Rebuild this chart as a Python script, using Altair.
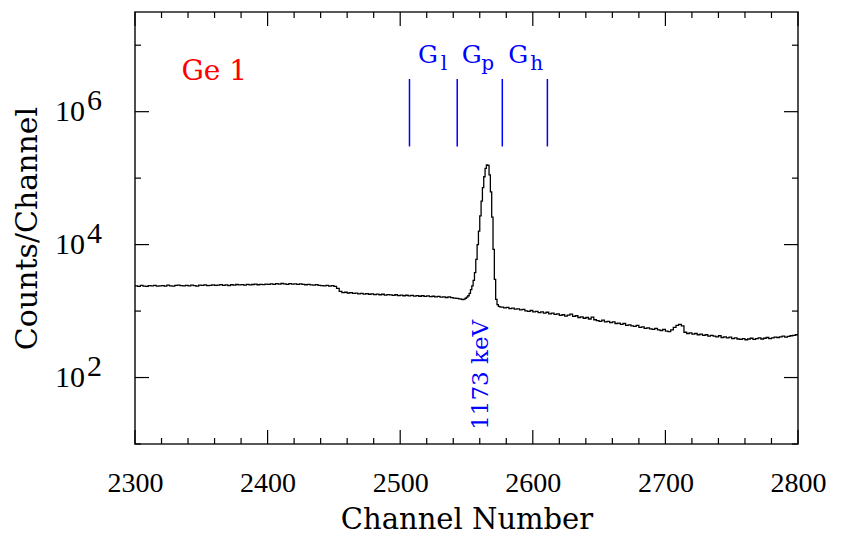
import altair as alt
import pandas as pd

# ---------------- data ----------------
# background left of the peak, every 2 channels (2300 ... 2544)
left_channels = list(range(2300, 2545, 2))
left_counts = [
    2400, 2360, 2430, 2380, 2350, 2410, 2390, 2440, 2370, 2400,
    2420, 2380, 2450, 2400, 2370, 2430, 2460, 2410, 2390, 2440,
    2400, 2450, 2420, 2380, 2460, 2430, 2470, 2410, 2440, 2480,
    2430, 2460, 2500, 2440, 2470, 2420, 2490, 2460, 2510, 2470,
    2500, 2450, 2520, 2480, 2510, 2540, 2490, 2530, 2500, 2550,
    2520, 2560, 2530, 2580, 2550, 2600, 2560, 2530, 2580, 2550,
    2570, 2530, 2560, 2520, 2490, 2530, 2480, 2460, 2500, 2440,
    2420, 2400, 2430, 2380, 2410, 2350, 2200, 1980, 1900, 1920,
    1870, 1890, 1840, 1860, 1820, 1850, 1800, 1830, 1790, 1810,
    1770, 1800, 1760, 1790, 1740, 1770, 1750, 1720, 1760, 1710,
    1740, 1700, 1730, 1690, 1720, 1680, 1710, 1670, 1700, 1660,
    1690, 1650, 1670, 1630, 1660, 1620, 1640, 1600, 1630, 1590,
    1570, 1550, 1530,
]
# 1173 keV photopeak, every channel (2546 ... 2575)
peak_channels = list(range(2546, 2576))
peak_counts = [
    1500, 1490, 1510, 1560, 1620, 1700, 1850, 2100, 2400, 2900,
    3800, 6000, 10000, 16000, 27000, 45000, 72000, 105000, 140000, 158000,
    156000, 112000, 62000, 26000, 8500, 3000, 1500, 1250, 1180, 1160,
]
# background right of the peak, every 2 channels (2576 ... 2800)
right_channels = list(range(2576, 2801, 2))
right_counts = [
    1150, 1120, 1140, 1090, 1110, 1070, 1080, 1040, 1060, 1010,
    990, 1020, 970, 990, 950, 970, 930, 960, 910, 930,
    890, 910, 860, 880, 840, 870, 900, 830, 850, 800,
    820, 780, 800, 760, 810, 740, 720, 700, 730, 690,
    700, 670, 690, 650, 660, 630, 650, 610, 620, 600,
    590, 610, 570, 580, 550, 560, 540, 530, 550, 520,
    510, 530, 500, 490, 520, 570, 610, 630, 600, 480,
    460, 470, 450, 460, 440, 450, 430, 440, 420, 430,
    420, 410, 425, 400, 410, 395, 405, 385, 395, 380,
    375, 385, 370, 380, 390, 375, 385, 395, 380, 390,
    400, 385, 395, 405, 400, 410, 420, 405, 415, 425,
    430, 440, 450,
]

x_major = [2300, 2400, 2500, 2600, 2700, 2800]
x_minor = [2320, 2340, 2360, 2380, 2420, 2440, 2460, 2480, 2520, 2540,
           2560, 2580, 2620, 2640, 2660, 2680, 2720, 2740, 2760, 2780]
y_major = [1e2, 1e4, 1e6]
y_major_exp = ["2", "4", "6"]
y_minor = [1e1, 1e3, 1e5, 1e7]

gate_edges = [2507, 2543, 2577, 2611]
gate_low, gate_high = 3.0e5, 3.1e6
gate_letter_x = [2521, 2554, 2589]
gate_letter_y = [5.4e6, 5.4e6, 5.4e6]
gate_sub = ["l", "p", "h"]
gate_sub_x = [2533, 2566, 2603]
gate_sub_y = [4.3e6, 4.3e6, 4.3e6]

det_label = ["Ge 1"]
det_x = [2335]
det_y = [3.0e6]

peak_label = ["1173 keV"]
peak_x = [2561]
peak_y = [110]

# ---------------- layout ----------------
W, H = 663, 432
SERIF = "DejaVu Serif"
TICKF = "Liberation Serif"
BLUE = "#0000ff"

xs = alt.Scale(domain=[2300, 2800], nice=False, zero=False)
ys = alt.Scale(type="log", domain=[10, 3.16e7], nice=False)

spec_df = pd.DataFrame({
    "ch": left_channels + peak_channels + right_channels,
    "c": left_counts + peak_counts + right_counts,
})

spectrum = alt.Chart(spec_df).mark_line(
    interpolate="step-after", color="black", strokeWidth=1.3, clip=True
).encode(
    x=alt.X("ch:Q", scale=xs, axis=alt.Axis(
        values=x_major, format="d", ticks=False, domain=False, grid=False,
        labelFlush=False, labelFont=TICKF, labelFontSize=28, labelColor="black",
        labelPadding=25,
        title="Channel Number", titleFont=SERIF, titleFontSize=29,
        titleFontWeight="normal", titleColor="black", titlePadding=8)),
    y=alt.Y("c:Q", scale=ys, axis=alt.Axis(
        labels=False, ticks=False, domain=False, grid=False,
        title="Counts/Channel", titleFont=SERIF, titleFontSize=30,
        titleFontWeight="normal", titleColor="black", titlePadding=93)),
)

def X(field):
    return alt.X(field, scale=xs, title="Channel Number")

def Y(field):
    return alt.Y(field, scale=ys, title="Counts/Channel")

def xticks(vals, length):
    d = pd.DataFrame({"v": vals})
    bot = alt.Chart(d).mark_rule(color="black", strokeWidth=1.2).encode(
        x=X("v:Q"), y=alt.value(H), y2=alt.value(H - length))
    top = alt.Chart(d).mark_rule(color="black", strokeWidth=1.2).encode(
        x=X("v:Q"), y=alt.value(0), y2=alt.value(length))
    return [bot, top]

def yticks(vals, length):
    d = pd.DataFrame({"v": vals})
    left = alt.Chart(d).mark_rule(color="black", strokeWidth=1.2).encode(
        y=Y("v:Q"), x=alt.value(0), x2=alt.value(length))
    right = alt.Chart(d).mark_rule(color="black", strokeWidth=1.2).encode(
        y=Y("v:Q"), x=alt.value(W), x2=alt.value(W - length))
    return [left, right]

ylab_df = pd.DataFrame({"v": y_major, "e": y_major_exp})
ylab_base = alt.Chart(ylab_df).mark_text(
    align="right", baseline="middle", font=TICKF, fontSize=30, color="black"
).encode(x=alt.value(-50), y=Y("v:Q"), text=alt.value("10"))
ylab_exp = alt.Chart(ylab_df).mark_text(
    align="left", baseline="middle", font=TICKF, fontSize=30, color="black", dy=-11
).encode(x=alt.value(-48), y=Y("v:Q"), text="e:N")

gate_df = pd.DataFrame({"x": gate_edges, "lo": [gate_low] * 4, "hi": [gate_high] * 4})
gates = alt.Chart(gate_df).mark_rule(color=BLUE, strokeWidth=1.5).encode(
    x=X("x:Q"), y=Y("lo:Q"), y2="hi:Q")

gl_df = pd.DataFrame({"x": gate_letter_x, "y": gate_letter_y, "s": gate_sub,
                      "sx": gate_sub_x, "sy": gate_sub_y})
g_letters = alt.Chart(gl_df).mark_text(
    font=SERIF, fontSize=25, color=BLUE, align="center", baseline="alphabetic"
).encode(x=X("x:Q"), y=Y("y:Q"), text=alt.value("G"))
g_subs = alt.Chart(gl_df).mark_text(
    font=SERIF, fontSize=20, color=BLUE, align="center", baseline="alphabetic"
).encode(x=X("sx:Q"), y=Y("sy:Q"), text="s:N")

det = alt.Chart(pd.DataFrame({"x": det_x, "y": det_y, "t": det_label})).mark_text(
    font=SERIF, fontSize=28, color="#ff0000", align="left", baseline="alphabetic"
).encode(x=X("x:Q"), y=Y("y:Q"), text="t:N")

peak = alt.Chart(pd.DataFrame({"x": peak_x, "y": peak_y, "t": peak_label})).mark_text(
    font=SERIF, fontSize=23, color=BLUE, align="center", baseline="middle", angle=270
).encode(x=X("x:Q"), y=Y("y:Q"), text="t:N")

layers = [spectrum]
layers += xticks(x_major, 14) + xticks(x_minor, 6)
layers += yticks(y_major, 14) + yticks(y_minor, 6)
layers += [ylab_base, ylab_exp, gates, g_letters, g_subs, det, peak]

chart = alt.layer(*layers).properties(
    width=W, height=H, background="white",
    autosize=alt.AutoSizeParams(type="none"),
    padding={"left": 127, "top": 4, "right": 30, "bottom": 93},
).configure_view(stroke="#222222", strokeWidth=1.6)

chart.save("out.html", embed_options={"renderer": "svg", "actions": False})
